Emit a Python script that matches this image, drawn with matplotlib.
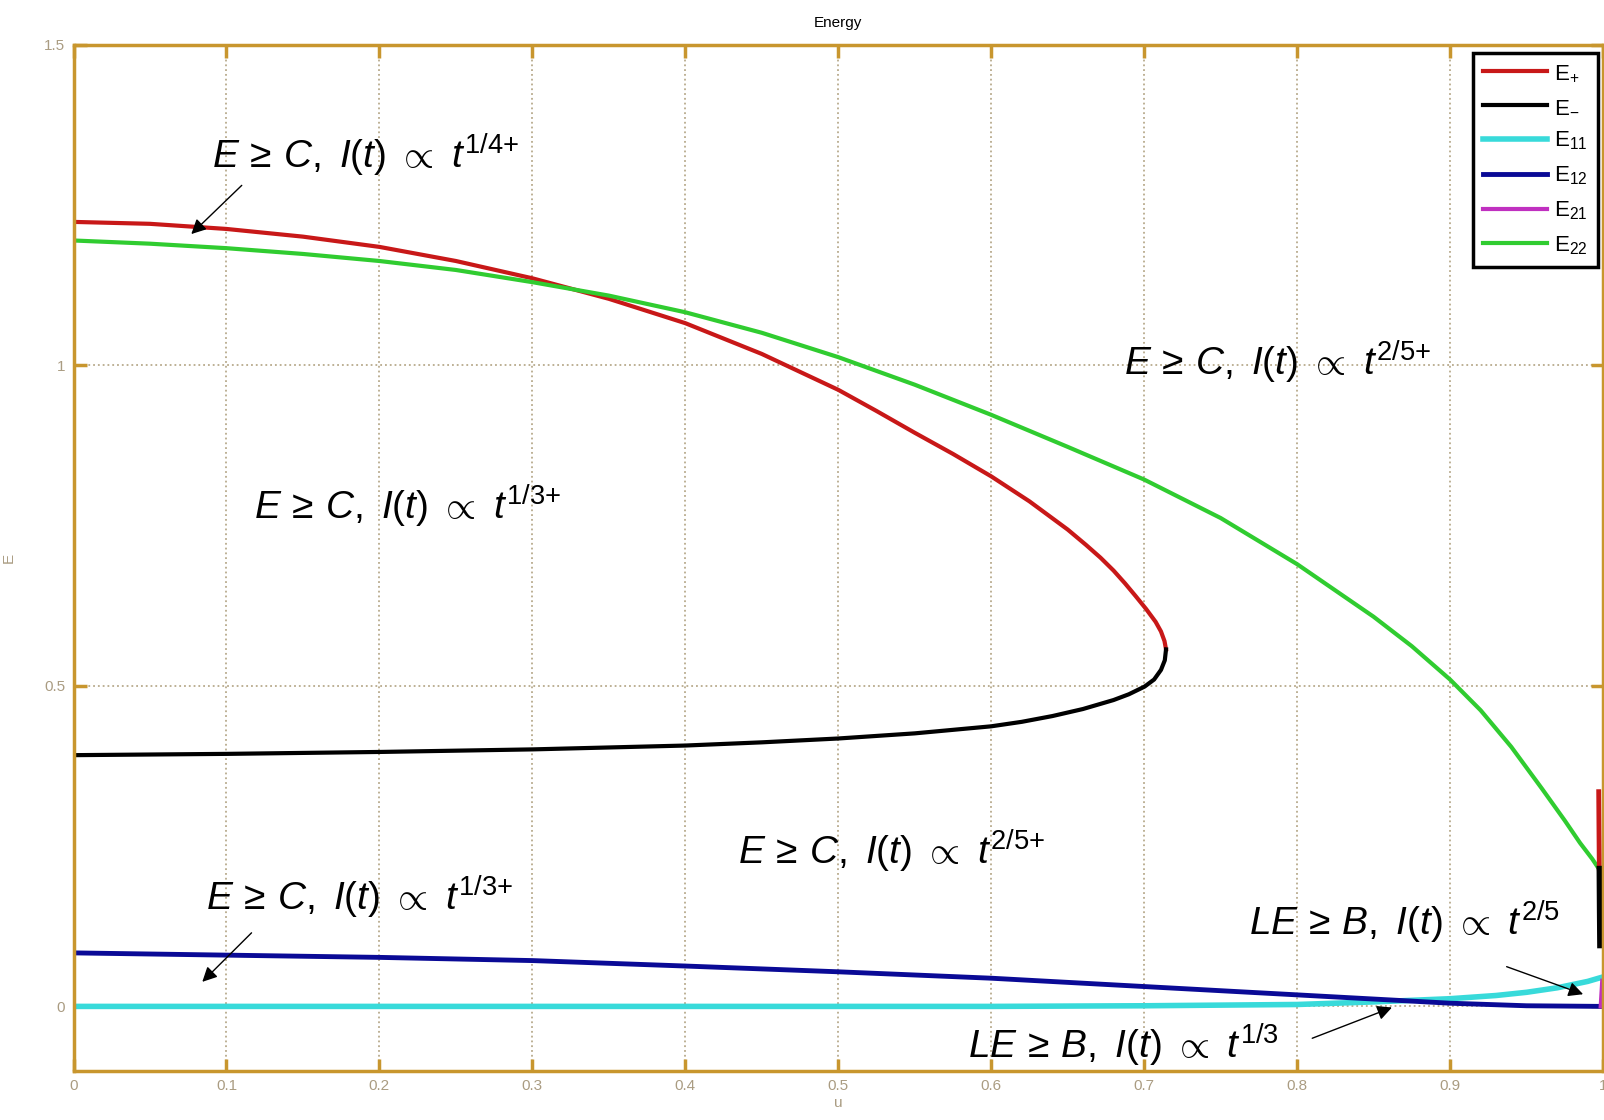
import matplotlib
matplotlib.use('Agg')
import matplotlib.pyplot as plt

# ---- data ----
u_plus = [0.0, 0.05, 0.1, 0.15, 0.2, 0.25, 0.3, 0.35, 0.4, 0.45, 0.5, 0.525, 0.55, 0.575, 0.6,
          0.625, 0.65, 0.662, 0.6715, 0.68, 0.6875, 0.6945, 0.7013, 0.7075, 0.711, 0.7133, 0.7143]
e_plus = [1.224, 1.221, 1.213, 1.201, 1.185, 1.163, 1.136, 1.104, 1.066, 1.018, 0.962, 0.929, 0.895, 0.862, 0.827,
          0.788, 0.744, 0.72, 0.70, 0.68, 0.66, 0.64, 0.62, 0.60, 0.585, 0.57, 0.557]

u_minus = [0.7143, 0.7135, 0.711, 0.7065, 0.7003, 0.69, 0.68, 0.66, 0.64, 0.62, 0.6, 0.55,
           0.5, 0.45, 0.4, 0.3, 0.2, 0.1, 0.0]
e_minus = [0.557, 0.54, 0.525, 0.51, 0.499, 0.487, 0.478, 0.464, 0.453, 0.444, 0.437, 0.426,
           0.418, 0.412, 0.407, 0.401, 0.397, 0.394, 0.392]

# second branch of E+ / E- squeezed against u = 1
u_plus_edge = [0.9972, 0.9974, 0.9976]
e_plus_edge = [0.335, 0.27, 0.215]
u_minus_edge = [0.9976, 0.9978, 0.998]
e_minus_edge = [0.215, 0.15, 0.095]

u_11 = [0.0, 0.2, 0.4, 0.6, 0.7, 0.8, 0.85, 0.9, 0.93, 0.95, 0.97, 0.99, 1.0]
e_11 = [0.0, 0.0, 0.0, 0.0, 0.001, 0.003, 0.007, 0.012, 0.017, 0.022, 0.029, 0.039, 0.046]

u_12 = [0.0, 0.1, 0.2, 0.3, 0.4, 0.5, 0.6, 0.7, 0.8, 0.9, 0.95, 1.0]
e_12 = [0.0835, 0.080, 0.0765, 0.0715, 0.063, 0.054, 0.044, 0.031, 0.018, 0.005, 0.001, 0.0]

u_21 = [0.9985, 0.999, 0.9995]
e_21 = [0.0, 0.02, 0.04]

u_22 = [0.0, 0.05, 0.1, 0.15, 0.2, 0.25, 0.3, 0.35, 0.4, 0.45, 0.5, 0.55, 0.6, 0.65, 0.7,
        0.75, 0.8, 0.85, 0.875, 0.9, 0.92, 0.94, 0.96, 0.975, 0.985, 0.993, 0.9972]
e_22 = [1.195, 1.190, 1.183, 1.174, 1.163, 1.149, 1.130, 1.109, 1.083, 1.051, 1.013, 0.970, 0.923, 0.873, 0.822,
        0.762, 0.690, 0.608, 0.562, 0.510, 0.462, 0.405, 0.340, 0.290, 0.255, 0.230, 0.215]

legend_labels = [r'$\mathrm{E}_{+}$', r'$\mathrm{E}_{-}$', r'$\mathrm{E}_{11}$',
                 r'$\mathrm{E}_{12}$', r'$\mathrm{E}_{21}$', r'$\mathrm{E}_{22}$']
x_ticks = [0, 0.1, 0.2, 0.3, 0.4, 0.5, 0.6, 0.7, 0.8, 0.9, 1]
x_ticklabels = ['0', '0.1', '0.2', '0.3', '0.4', '0.5', '0.6', '0.7', '0.8', '0.9', '1']
y_ticks = [0, 0.5, 1, 1.5]
y_ticklabels = ['0', '0.5', '1', '1.5']

# ---- style (MATLAB-ish) ----
plt.rcParams['font.family'] = ['Liberation Sans', 'DejaVu Sans']
plt.rcParams['mathtext.fontset'] = 'custom'
plt.rcParams['mathtext.rm'] = 'Liberation Sans'
plt.rcParams['mathtext.it'] = 'Liberation Sans:italic'
plt.rcParams['mathtext.default'] = 'it'

axis_col = '#c8962e'
tick_col = '#aa9c82'
grid_col = '#b8aa8c'

fig = plt.figure(figsize=(16.04, 11.2), dpi=100)
ax = fig.add_axes([73.5 / 1604, 49.5 / 1120, 1529.5 / 1604, 1025.5 / 1120])

ax.plot(u_plus, e_plus, color='#c81818', lw=3, label=legend_labels[0])
ax.plot(u_minus, e_minus, color='black', lw=3, label=legend_labels[1])
ax.plot(u_11, e_11, color='#38dada', lw=4, label=legend_labels[2])
ax.plot(u_12, e_12, color='#0a0a96', lw=3.5, label=legend_labels[3])
ax.plot(u_21, e_21, color='#c030c0', lw=3, label=legend_labels[4])
ax.plot(u_22, e_22, color='#30cc30', lw=3, label=legend_labels[5])
ax.plot(u_plus_edge, e_plus_edge, color='#c81818', lw=3.5)
ax.plot(u_minus_edge, e_minus_edge, color='black', lw=4)

ax.set_xlim(0, 1)
ax.set_ylim(-0.1, 1.5)
ax.set_xticks(x_ticks)
ax.set_xticklabels(x_ticklabels)
ax.set_yticks(y_ticks)
ax.set_yticklabels(y_ticklabels)
ax.tick_params(direction='in', length=9, width=2.5, color=axis_col, labelcolor=tick_col,
               labelsize=11, top=True, right=True, pad=6)
for s in ax.spines.values():
    s.set_color(axis_col)
    s.set_linewidth(2.5)
ax.grid(True, linestyle=':', color=grid_col, lw=1.3)

ax.set_title('Energy', fontsize=11, pad=13)
ax.set_xlabel('u', fontsize=11, color=tick_col, labelpad=2)
ax.set_ylabel('E', fontsize=11, color=tick_col)
ax.yaxis.set_label_coords(-0.038, 0.5)

leg = ax.legend(loc='upper right', bbox_to_anchor=(0.9965, 0.992), borderaxespad=0,
                fontsize=16, handlelength=2.9, handletextpad=0.3, labelspacing=0.55,
                borderpad=0.45, fancybox=False, framealpha=1)
leg.get_frame().set_edgecolor('black')
leg.get_frame().set_linewidth(2.5)

# ---- annotations ----
fs = 28
arrow = dict(arrowstyle='-|>', color='black', lw=1, mutation_scale=22, shrinkA=0, shrinkB=0)
ax.text(0.0905, 1.307, r'$E\,\geq\,C,\ I(t)\ \propto\ t^{\mathit{1/4}{+}}$', fontsize=fs)
ax.annotate('', xy=(0.077, 1.205), xytext=(0.11, 1.281), arrowprops=arrow)
ax.text(0.118, 0.76, r'$E\,\geq\,C,\ I(t)\ \propto\ t^{\mathit{1/3}{+}}$', fontsize=fs)
ax.text(0.687, 0.984, r'$E\,\geq\,C,\ I(t)\ \propto\ t^{\mathit{2/5}{+}}$', fontsize=fs)
ax.text(0.4344, 0.2217, r'$E\,\geq\,C,\ I(t)\ \propto\ t^{\mathit{2/5}{+}}$', fontsize=fs)
ax.text(0.0869, 0.150, r'$E\,\geq\,C,\ I(t)\ \propto\ t^{\mathit{1/3}{+}}$', fontsize=fs)
ax.annotate('', xy=(0.0842, 0.0383), xytext=(0.1164, 0.1148), arrowprops=arrow)
ax.text(0.7684, 0.110, r'$LE\,\geq\,B,\ I(t)\ \propto\ t^{\mathit{2/5}}$', fontsize=fs)
ax.annotate('', xy=(0.987, 0.019), xytext=(0.937, 0.062), arrowprops=arrow)
ax.text(0.5848, -0.0817, r'$LE\,\geq\,B,\ I(t)\ \propto\ t^{\mathit{1/3}}$', fontsize=fs)
ax.annotate('', xy=(0.862, -0.0017), xytext=(0.8099, -0.0497), arrowprops=arrow)

fig.savefig('out.png', dpi=100)
